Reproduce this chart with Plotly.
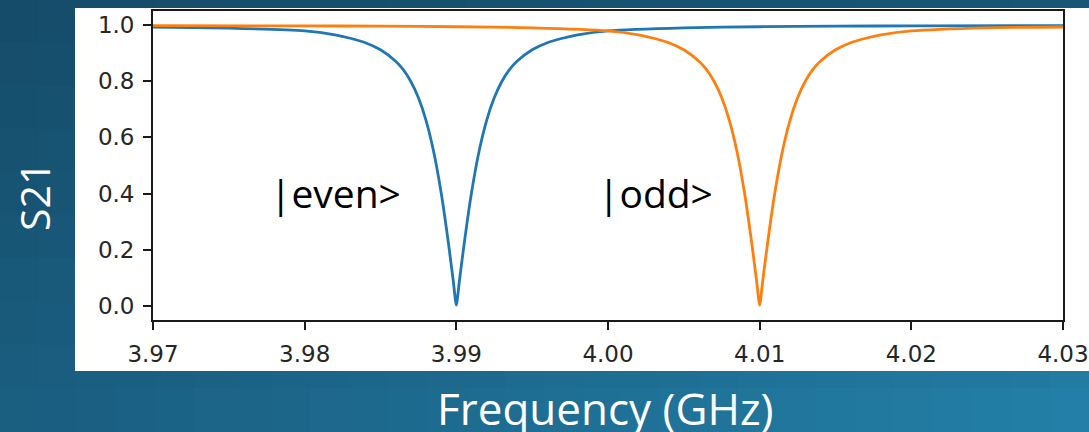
import plotly.graph_objects as go

# ---------------- data ----------------
even_freq = [3.970, 3.975, 3.980, 3.982, 3.983, 3.984, 3.985, 3.986, 3.9865, 3.987,
             3.9875, 3.988, 3.9885, 3.989, 3.9895, 3.9898, 3.990, 3.9902, 3.9905,
             3.991, 3.9915, 3.992, 3.9925, 3.993, 3.9935, 3.994, 3.995, 3.996,
             3.997, 3.998, 4.000, 4.005, 4.010, 4.015, 4.020, 4.030]
even_s21 = [0.993, 0.989, 0.979, 0.965, 0.953, 0.937, 0.912, 0.871, 0.841, 0.799,
            0.741, 0.661, 0.551, 0.403, 0.215, 0.088, 0.003, 0.088, 0.215,
            0.403, 0.551, 0.661, 0.741, 0.799, 0.841, 0.871, 0.912, 0.937,
            0.953, 0.965, 0.979, 0.990, 0.994, 0.996, 0.997, 0.998]

odd_freq = [3.970, 3.980, 3.985, 3.990, 3.995, 4.000, 4.002, 4.003, 4.004, 4.005,
            4.006, 4.0065, 4.007, 4.0075, 4.008, 4.0085, 4.009, 4.0095, 4.0098,
            4.010, 4.0102, 4.0105, 4.011, 4.0115, 4.012, 4.0125, 4.013, 4.0135,
            4.014, 4.015, 4.016, 4.017, 4.018, 4.020, 4.025, 4.030]
odd_s21 = [0.998, 0.997, 0.996, 0.994, 0.990, 0.979, 0.965, 0.953, 0.937, 0.912,
           0.871, 0.841, 0.799, 0.741, 0.661, 0.551, 0.403, 0.215, 0.088,
           0.003, 0.088, 0.215, 0.403, 0.551, 0.661, 0.741, 0.799, 0.841,
           0.871, 0.912, 0.937, 0.953, 0.965, 0.979, 0.990, 0.993]

x_ticks = [3.97, 3.98, 3.99, 4.00, 4.01, 4.02, 4.03]
x_tick_text = ["3.97", "3.98", "3.99", "4.00", "4.01", "4.02", "4.03"]
y_ticks = [0.0, 0.2, 0.4, 0.6, 0.8, 1.0]
y_tick_text = ["0.0", "0.2", "0.4", "0.6", "0.8", "1.0"]

labels = ["|even>", "|odd>"]
label_x = [3.9776, 3.9992]
label_y = [0.405, 0.405]

# ---------------- layout geometry ----------------
W, H = 1089, 432
L, R, T, B = 153, 1063, 11, 320  # plot area in pixels


def px_x(p):
    return (p - L) / (R - L)


def px_y(p):
    return (B - p) / (B - T)


def lerp(a, b, t):
    return a + (b - a) * t


def mix(c1, c2, t):
    return tuple(lerp(a, b, t) for a, b in zip(c1, c2))


TL = (21, 75, 104)
TR = (23, 84, 117)
BL = (26, 94, 129)
BR = (36, 130, 170)

shapes = []
NX, NY = 28, 10
for i in range(NX):
    for j in range(NY):
        tx = (i + 0.5) / NX
        ty = (j + 0.5) / NY
        top = mix(TL, TR, tx)
        bot = mix(BL, BR, tx)
        c = mix(top, bot, ty)
        shapes.append(dict(
            type="rect", xref="paper", yref="paper", layer="below",
            x0=px_x(W * i / NX - 1), x1=px_x(W * (i + 1) / NX + 1),
            y0=px_y(H * j / NY - 1), y1=px_y(H * (j + 1) / NY + 1),
            line=dict(width=0),
            fillcolor="rgb(%d,%d,%d)" % tuple(int(round(v)) for v in c),
        ))
# white figure box
shapes.append(dict(type="rect", xref="paper", yref="paper", layer="below",
                   x0=px_x(75), x1=px_x(1095), y0=px_y(371), y1=px_y(8),
                   line=dict(width=0), fillcolor="white"))

fig = go.Figure()
fig.add_trace(go.Scatter(x=even_freq, y=even_s21, mode="lines",
                         line=dict(color="#1f77b4", width=2.8, shape="spline", smoothing=0.6),
                         hoverinfo="skip", showlegend=False))
fig.add_trace(go.Scatter(x=odd_freq, y=odd_s21, mode="lines",
                         line=dict(color="#ff7f0e", width=2.8, shape="spline", smoothing=0.6),
                         hoverinfo="skip", showlegend=False))

annotations = []
for t, xv, yv in zip(labels, label_x, label_y):
    annotations.append(dict(x=xv, y=yv, xref="x", yref="y", text=t, showarrow=False,
                            xanchor="left", yanchor="middle",
                            font=dict(family="Open Sans", size=39, color="black")))
annotations.append(dict(x=px_x(34), y=px_y(197), xref="paper", yref="paper", text="S21",
                        showarrow=False, textangle=-90, xanchor="center", yanchor="middle",
                        font=dict(family="Open Sans", size=41, color="white")))
annotations.append(dict(x=px_x(605), y=px_y(408), xref="paper", yref="paper",
                        text="Frequency (GHz)", showarrow=False, xanchor="center",
                        yanchor="middle",
                        font=dict(family="Open Sans", size=44, color="white")))

axis_common = dict(showgrid=False, zeroline=False, showline=True, linecolor="#1a1a1a",
                   linewidth=1.8, mirror=True, ticks="outside", ticklen=8, tickwidth=1.6,
                   tickcolor="#1a1a1a", automargin=False,
                   tickfont=dict(family="DejaVu Sans", size=23, color="#262626"))

fig.update_layout(
    width=W, height=H,
    margin=dict(l=L, r=W - R, t=T, b=H - B, pad=0, autoexpand=False),
    paper_bgcolor="#1b5f80", plot_bgcolor="white",
    shapes=shapes, annotations=annotations,
    xaxis=dict(range=[3.97, 4.03], tickvals=x_ticks, ticktext=x_tick_text,
               ticklabelstandoff=4, **axis_common),
    yaxis=dict(range=[-0.05, 1.05], tickvals=y_ticks, ticktext=y_tick_text,
               ticklabelstandoff=4, **axis_common),
)

fig.write_html("out.html")
